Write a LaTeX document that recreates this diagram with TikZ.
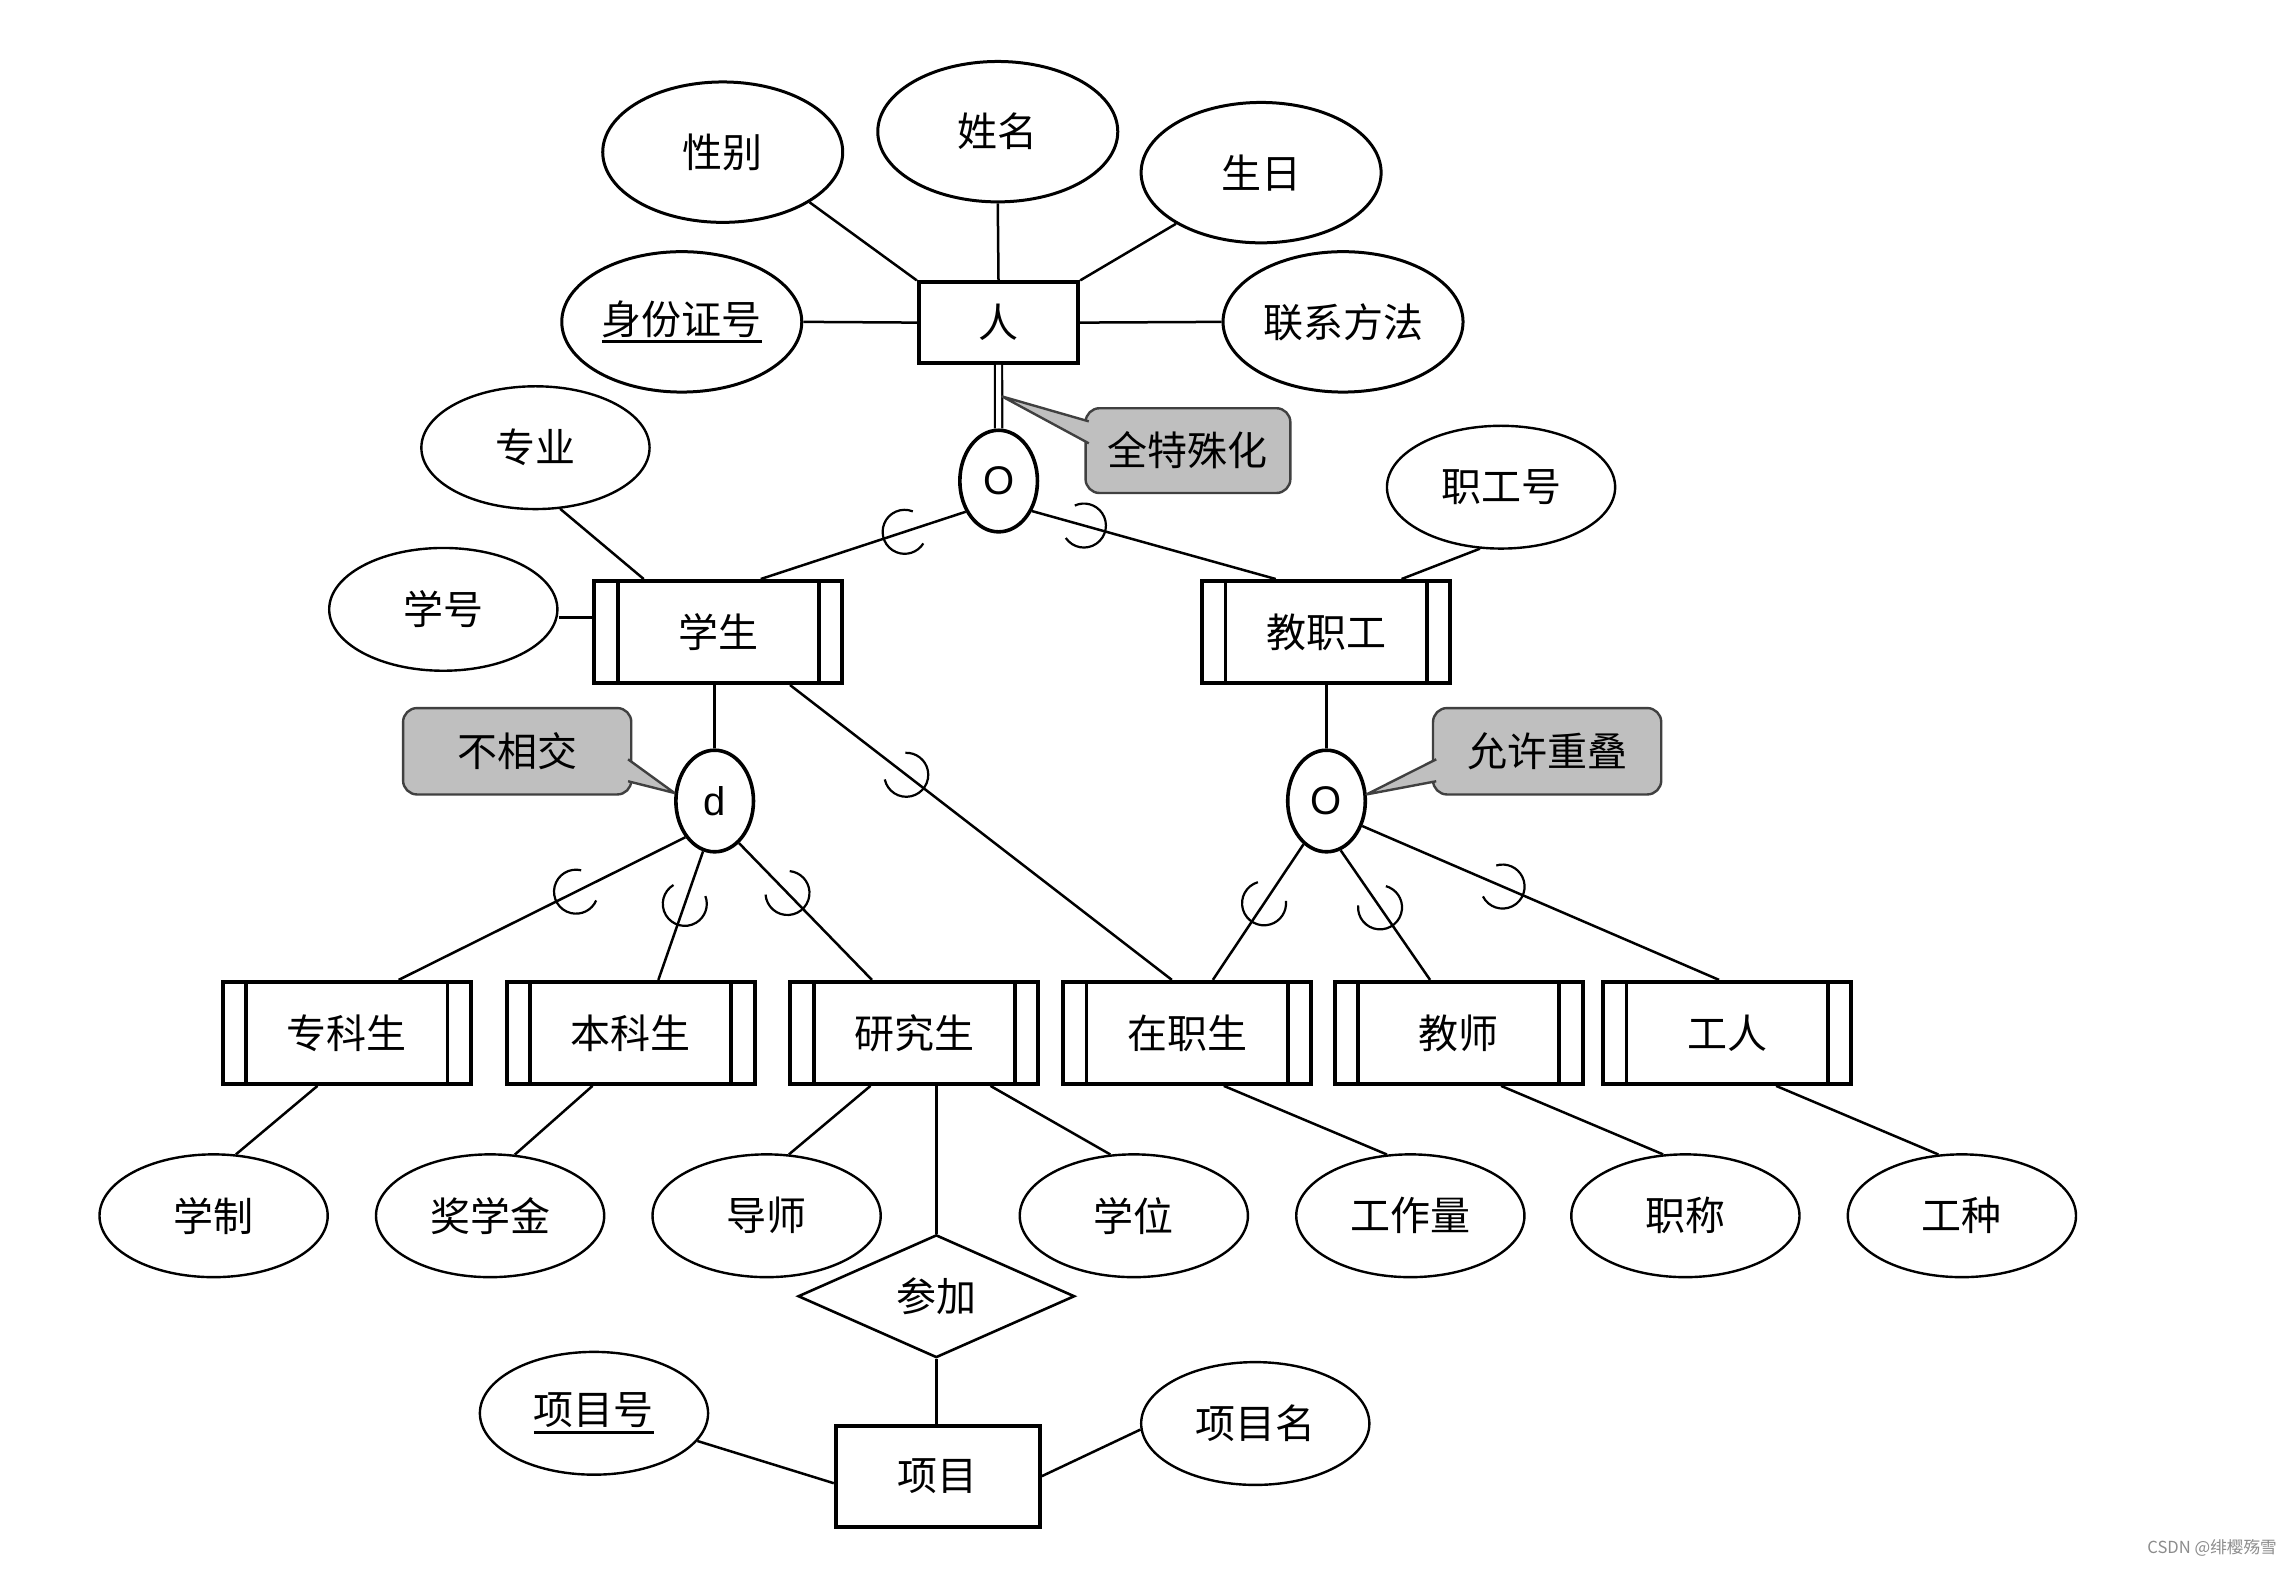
\documentclass[tikz,border=0pt]{standalone}
\usepackage{fontspec}
\setmainfont{Noto Sans CJK SC}
\newfontfamily\latinfont{Liberation Sans}
\usetikzlibrary{shapes.geometric,calc}
\newcommand{\myul}[1]{\setbox0\hbox{#1}\rlap{\rule[-4.5pt]{\wd0}{1.4pt}}\box0}
\newcommand{\subarc}[3]{%
  \draw[arcst] let \p1=($(#1)-(#2)$), \n1={atan2(\y1,\x1)} in
    ($(#1)!#3!(#2)$) ++(\n1:11pt) ++(\n1+50:11pt)
    arc[start angle={\n1+50}, delta angle=260, radius=11pt];}
\newcommand{\pointer}[3]{%
  \fill[fill=black!25] #1 -- (#3) -- #2 -- cycle;
  \draw[draw=black!75, line width=1.2pt, line join=round] #1 -- (#3) -- #2;}
\tikzset{
  base/.style={font=\fontsize{20}{24}\selectfont, inner sep=0pt},
  attrb/.style={base, ellipse, draw, line width=1.5pt, minimum width=120pt, minimum height=70.2pt},
  attrs/.style={base, ellipse, draw, line width=1.2pt, minimum width=114.1pt, minimum height=61.4pt},
  ent/.style={base, rectangle, draw, line width=2pt},
  weak/.style={ent, minimum width=124pt, minimum height=51pt,
    path picture={
      \draw[line width=1.8pt] ([xshift=11.7pt]path picture bounding box.north west) -- ([xshift=11.7pt]path picture bounding box.south west);
      \draw[line width=1.8pt] ([xshift=-11.7pt]path picture bounding box.north east) -- ([xshift=-11.7pt]path picture bounding box.south east);}},
  circ/.style={base, ellipse, draw, line width=1.8pt, minimum width=38.8pt, minimum height=50.8pt, font=\latinfont\fontsize{20}{24}\selectfont},
  rel/.style={base, diamond, draw, line width=1.3pt, minimum width=138.3pt, minimum height=61.4pt},
  callout/.style={base, rectangle, rounded corners=7pt, draw=black!75, fill=black!25, line width=1.2pt},
  conn/.style={line width=1.25pt},
  arcst/.style={line width=1.1pt},
  wm/.style={font=\fontsize{8.3}{10}\selectfont, text=black!45, inner sep=0pt}
}
\begin{document}
\begin{tikzpicture}[x=0.73151pt, y=-0.73151pt]
\fill[white] (0,0) rectangle (1568,1071.8);
\useasboundingbox (0,0) rectangle (1568,1071.8);

% top attributes and entity
\node[attrb] (xb) at (494,104) {性别};
\node[attrb] (xm) at (682,90) {姓名};
\node[attrb] (sr) at (862,118) {生日};
\node[attrb] (sfz) at (466,220) {\myul{身份证号}};
\node[attrb] (lx) at (918,220) {联系方法};
\node[ent, minimum width=79.7pt, minimum height=40.2pt] (ren) at (682.5,220.5) {人};
\node[circ] (O1) at (682.6,328.8) {O};
\node[callout, minimum width=102.4pt, minimum height=42.4pt] (c1) at (812,308) {全特殊化};

\draw[conn] (xb.-30) -- (ren.north west);
\draw[conn] (xm.south) -- (ren.north);
\draw[conn] (sr.211) -- (ren.north east);
\draw[conn] (sfz.east) -- (ren.west);
\draw[conn] (lx.west) -- (ren.east);
\draw[line width=1.1pt, double, double distance=2.5pt] (ren.south) -- (O1.north);
\coordinate (t1) at (685,271);
\pointer{($(c1.west)+(3,-20)$)}{($(c1.west)+(3,-5)$)}{t1}

% second level
\node[attrs] (zy) at (366,306) {专业};
\node[attrs] (xh) at (303,416.5) {学号};
\node[weak] (xs) at (491,432) {学生};
\node[weak] (jzg) at (906.5,432) {教职工};
\node[attrs] (zgh) at (1026,333) {职工号};

\coordinate (a1) at (O1.223);
\coordinate (b1) at ($(xs.north)+(29,0)$);
\coordinate (a2) at (O1.318);
\coordinate (b2) at ($(jzg.north)+(-34.5,0)$);
\draw[conn] (a1) -- (b1);
\draw[conn] (a2) -- (b2);
\subarc{a1}{b1}{0.40}
\subarc{a2}{b2}{0.30}
\draw[conn] (zy.292) -- ($(xs.north)+(-51,0)$);
\draw[line width=1.8pt] ([yshift=-4pt]xh.east) -- ([yshift=-4pt]xh.east -| xs.west);
\draw[conn] (zgh.251.6) -- ($(jzg.north)+(51.5,0)$);

% specialization circles
\node[circ] (dd) at (488.5,547.5) {d};
\node[circ] (O2) at (906.7,547.5) {O};
\node[callout, minimum width=114.1pt, minimum height=43.2pt] (c2) at (353.5,513.5) {不相交};
\node[callout, minimum width=114.1pt, minimum height=43.2pt] (c3) at (1057.5,513.5) {允许重叠};
\draw[conn] (dd.north |- xs.south) -- (dd.north);
\draw[conn] (O2.north |- jzg.south) -- (O2.north);
\coordinate (t2) at (461,542);
\coordinate (t3) at (934,543);
\pointer{($(c2.east)+(-3,5.5)$)}{($(c2.east)+(-3,20.5)$)}{t2}
\pointer{($(c3.west)+(3,5.5)$)}{($(c3.west)+(3,20.5)$)}{t3}

% lower entities
\node[weak] (zks) at (237,706) {专科生};
\node[weak] (bks) at (431,706) {本科生};
\node[weak] (yjs) at (625,706) {研究生};
\node[weak] (zzs) at (811.5,706) {在职生};
\node[weak] (js) at (997,706) {教师};
\node[weak] (gr) at (1180.5,706) {工人};

\coordinate (a3) at (dd.231);
\coordinate (b3) at ($(zks.north)+(35.5,0)$);
\coordinate (a4) at (dd.257);
\coordinate (b4) at ($(bks.north)+(19,0)$);
\coordinate (a5) at (dd.300);
\coordinate (b5) at ($(yjs.north)+(-29,0)$);
\coordinate (a6) at ($(xs.south)+(49,0)$);
\coordinate (b6) at ($(zzs.north)+(-10.5,0)$);
\coordinate (a7) at (O2.242);
\coordinate (b7) at ($(zzs.north)+(17.5,0)$);
\coordinate (a8) at (O2.286);
\coordinate (b8) at ($(js.north)+(-19.5,0)$);
\coordinate (a9) at (O2.325);
\coordinate (b9) at ($(gr.north)+(-5.5,0)$);
\foreach \i in {3,...,9} {\draw[conn] (a\i) -- (b\i);}
\subarc{a3}{b3}{0.45}
\subarc{a4}{b4}{0.57}
\subarc{a5}{b5}{0.48}
\subarc{a6}{b6}{0.35}
\subarc{a7}{b7}{0.57}
\subarc{a8}{b8}{0.58}
\subarc{a9}{b9}{0.45}

% bottom attributes
\node[attrs] (xz) at (146,831) {学制};
\node[attrs] (jxj) at (335,831) {奖学金};
\node[attrs] (ds) at (524,831) {导师};
\node[attrs] (xw) at (775,831) {学位};
\node[attrs] (gzl) at (964,831) {工作量};
\node[attrs] (zc) at (1152,831) {职称};
\node[attrs] (gz) at (1341,831) {工种};
\draw[conn] ($(zks.south)+(-20,0)$) -- (xz.70);
\draw[conn] ($(bks.south)+(-26,0)$) -- (jxj.68);
\draw[conn] ($(yjs.south)+(-30,0)$) -- (ds.70);
\draw[conn] ($(yjs.south)+(52,0)$) -- (xw.111);
\draw[conn] ($(zzs.south)+(25,0)$) -- (gzl.111);
\draw[conn] ($(js.south)+(29,0)$) -- (zc.110);
\draw[conn] ($(gr.south)+(33.5,0)$) -- (gz.111);

% relationship and project
\node[rel] (cj) at (640,886) {参加};
\node[ent, minimum width=102pt, minimum height=50.5pt] (xmu) at (641,1009) {项目};
\node[attrs] (xmh) at (406,966) {\myul{项目号}};
\node[attrs] (xmm) at (858,973) {项目名};
\draw[conn] (cj.north |- yjs.south) -- (cj.north);
\draw[conn] (cj.south) -- (cj.south |- xmu.north);
\draw[conn] (xmh.-15) -- ($(xmu.west)+(0,4.8)$);
\draw[conn] (xmm.183) -- (xmu.east);

\node[wm] (wmk) at (1512,1058) {CSDN @绯樱殇雪};
\end{tikzpicture}
\end{document}
